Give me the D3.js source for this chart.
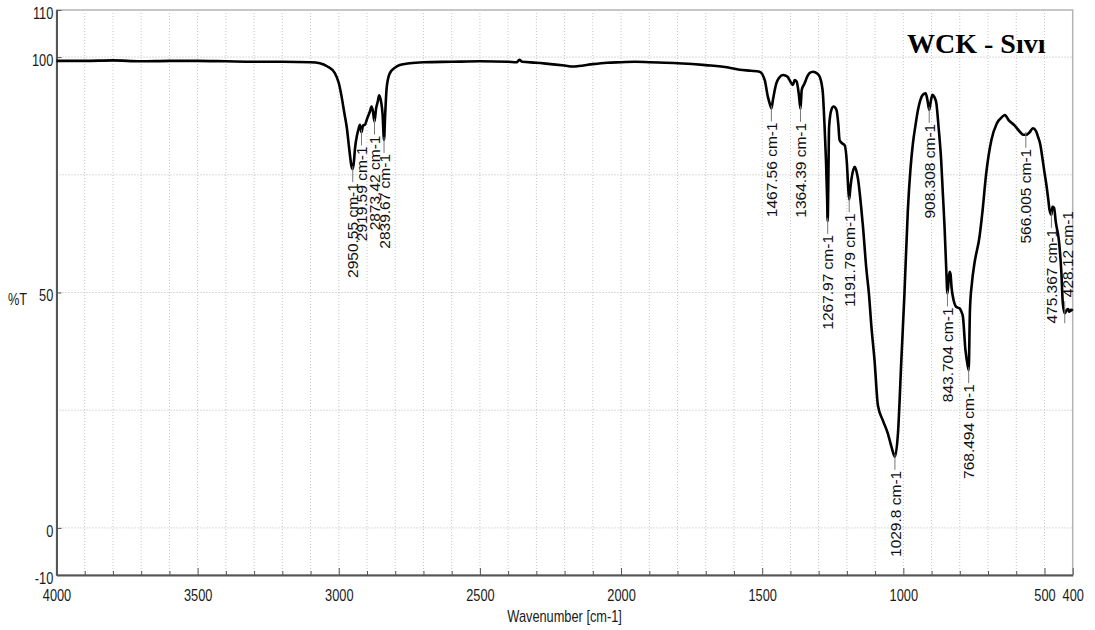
<!DOCTYPE html>
<html><head><meta charset="utf-8">
<script src="https://cdn.jsdelivr.net/npm/d3@7"></script>
<style>body{margin:0;background:#fff}svg{display:block}</style>
</head><body>
<svg id="c" width="1095" height="630"></svg>
<script>
// Spectrum trace (wavenumber in cm-1, %T)
const wavenumbers = [4000,3900,3800,3700,3600,3500,3400,3300,3200,3100,3067,3040,3014,3000,2990,2980,2972,2962,2955,2950.55,2946,2943,2935,2931,2925,2919.59,2914,2908,2898,2890,2884,2879,2873.42,2868,2862,2857,2850,2845,2839.67,2836,2831,2825,2819,2800,2784,2748,2700,2600,2500,2400,2370,2360,2350,2300,2250,2200,2170,2150,2100,2050,2000,1950,1900,1800,1700,1620,1580,1540,1509,1491,1480,1470,1467.56,1462,1450,1440,1426,1410,1403,1391,1385,1378,1370,1364.39,1360,1350,1340,1332,1320,1305,1296,1290,1285,1279,1274,1270,1267.97,1266,1263,1255,1247,1237,1230,1226,1215,1208,1200,1195,1191.79,1188,1184,1172,1165,1160,1150,1143,1131,1122,1113,1102,1090,1073,1055,1042,1029.8,1019,1007,996,984,975,966,957,948,940,931,921,915,908.308,903,897,890,883,875,866,860,854,848,843.704,839,836,833,829,822,812,800,795,789,780,772,768.494,764,757,748,730,720,707,688,669,650,640,627,606,588,575,566.005,553,541,530,523,515,506,500,494,486,482,475.367,472,466,460,449,440,435,428.12,421,416,413,405,400];
const transmittance = [99.2,99.2,99.3,99.1,99.2,99.2,99.1,99.0,99.0,98.9,98.7,98.0,96.6,94.5,91.6,88.0,85.2,80.0,76.8,76.2,78.0,80.3,83.5,84.5,85.6,84.0,85.5,85.6,87.2,88.4,89.5,88.5,86.3,89.0,90.5,91.9,90.5,88.0,82.4,87.3,93.0,95.5,96.6,97.8,98.3,98.7,98.9,99.0,99.1,99.0,98.9,99.4,99.0,98.8,98.5,98.2,98.0,98.1,98.5,98.8,98.9,99.0,98.9,98.7,98.3,97.8,97.3,97.1,96.9,95.1,91.6,89.5,89.1,90.9,94.4,95.6,96.2,95.8,95.1,94.1,95.1,94.8,92.0,89.0,93.0,94.4,95.9,96.6,96.9,96.5,95.8,94.5,92.3,85.2,78.0,70.0,65.2,72.0,85.2,88.8,89.5,88.8,85.5,82.4,81.6,81.3,77.5,72.0,69.8,72.0,74.0,76.7,75.5,73.9,68.5,64.0,55.0,49.8,42.7,35.6,26.0,22.9,20.1,17.2,15.1,20.1,35.7,49.8,67.5,76.0,81.7,85.5,88.8,90.8,92.0,92.3,91.0,88.8,90.5,92.0,91.5,90.2,85.0,78.1,71.0,64.0,55.0,49.8,53.0,54.4,54.0,51.0,48.4,46.9,46.6,46.0,44.9,37.8,34.5,33.5,46.3,52.0,56.2,61.9,67.0,75.0,82.4,85.9,87.3,87.7,86.6,85.5,84.2,83.5,83.5,84.0,84.9,84.3,83.1,81.5,78.0,75.5,73.2,69.5,67.5,66.5,68.2,68.0,65.0,61.1,54.1,47.7,45.6,46.3,46.5,45.9,46.3,46.1];

// Peak labels
const peakWavenumbers = [2950.55,2919.59,2873.42,2839.67,1467.56,1364.39,1267.97,1191.79,1029.8,908.308,843.704,768.494,566.005,475.367,428.12];
const peakValues = [76.2,84.0,86.3,82.4,89.1,89.0,65.2,69.8,15.1,88.8,49.8,33.5,83.5,66.5,45.6];
const peakTexts = ["2950.55 cm-1","2919.59 cm-1","2873.42 cm-1","2839.67 cm-1","1467.56 cm-1","1364.39 cm-1","1267.97 cm-1","1191.79 cm-1","1029.8 cm-1","908.308 cm-1","843.704 cm-1","768.494 cm-1","566.005 cm-1","475.367 cm-1","428.12 cm-1"];
const peakAbove = [false,false,false,false,false,false,false,false,false,false,false,false,false,false,true];

const xTicks = [4000,3500,3000,2500,2000,1500,1000,500,400];
const yTicks = [-10,0,50,100,110];
const yGrid = [0,25,50,75,100];
const title = "WCK - Sıvı";

const svg = d3.select("#c");
const x = d3.scaleLinear().domain([4000,400]).range([56.5,1072.7]);
const y = d3.scaleLinear().domain([-10,110]).range([575,10]);
const font = "'Liberation Sans', Arial, sans-serif";

// frame
svg.append("rect").attr("x",x(4000)).attr("y",y(110)).attr("width",x(400)-x(4000)).attr("height",y(-10)-y(110))
  .attr("fill","none").attr("stroke","#b4b4b4").attr("stroke-width",1.5);

// grid
const vGrid = d3.range(3900,400,-100);
svg.append("g").selectAll("line").data(vGrid).join("line")
  .attr("x1",d=>x(d)).attr("x2",d=>x(d)).attr("y1",y(110)).attr("y2",y(-10))
  .attr("stroke","#c4c4c4").attr("stroke-width",1).attr("stroke-dasharray","1,2");
svg.append("g").selectAll("line").data(yGrid).join("line")
  .attr("x1",x(4000)).attr("x2",x(400)).attr("y1",d=>y(d)).attr("y2",d=>y(d))
  .attr("stroke","#b8b8b8").attr("stroke-width",1).attr("stroke-dasharray","1,2");

// minor x ticks
const minor = d3.range(3900,400,-100).filter(v=>!xTicks.includes(v));
svg.append("g").attr("transform",`translate(0,${y(-10)})`)
  .call(d3.axisBottom(x).tickValues(minor).tickSizeInner(-4).tickSizeOuter(0).tickFormat(""))
  .call(g=>g.select(".domain").remove())
  .call(g=>g.selectAll("line").attr("stroke","#555"));

// x axis
const gx = svg.append("g").attr("transform",`translate(0,${y(-10)})`)
  .call(d3.axisBottom(x).tickValues(xTicks).tickSizeInner(-7).tickSizeOuter(0).tickPadding(15).tickFormat(d=>String(d)));
gx.select(".domain").attr("stroke","#555").attr("stroke-width",2);
gx.selectAll("line").attr("stroke","#555");
gx.selectAll("text").attr("font-family",font).attr("font-size",16).attr("fill","#1a1a1a").attr("transform","scale(0.8,1)");

// y axis
const gy = svg.append("g").attr("transform",`translate(${x(4000)},0)`)
  .call(d3.axisLeft(y).tickValues(yTicks).tickSizeInner(-5).tickSizeOuter(0).tickPadding(4).tickFormat(d=>String(d)));
gy.select(".domain").attr("stroke","#555").attr("stroke-width",2);
gy.selectAll("line").attr("stroke","#555");
gy.selectAll("text").attr("font-family",font).attr("font-size",16).attr("fill","#1a1a1a").attr("dy","0.52em").attr("transform","scale(0.8,1)");

// axis titles
svg.append("text").attr("transform",`translate(${(x(4000)+x(400))/2},622) scale(0.8,1)`)
  .attr("text-anchor","middle").attr("font-family",font).attr("font-size",16).attr("fill","#1a1a1a").text("Wavenumber [cm-1]");
svg.append("text").attr("transform",`translate(8,305) scale(0.8,1)`)
  .attr("font-family",font).attr("font-size",16).attr("fill","#1a1a1a").text("%T");

// spectrum
const pts = wavenumbers.map((w,i)=>[w,transmittance[i]]);
svg.append("path").datum(pts)
  .attr("d",d3.line().x(d=>x(d[0])).y(d=>y(d[1])).curve(d3.curveMonotoneX))
  .attr("fill","none").attr("stroke","#000").attr("stroke-width",2.6).attr("stroke-linejoin","round");

// peak labels
const lbl = svg.append("g");
peakWavenumbers.forEach((w,i)=>{
  const px = x(w), py = y(peakValues[i]);
  if(!peakAbove[i]){
    lbl.append("line").attr("x1",px).attr("x2",px).attr("y1",py-3).attr("y2",py+13)
      .attr("stroke","#777").attr("stroke-width",1);
    lbl.append("text").attr("transform",`translate(${px},${py+14}) rotate(-90)`)
      .attr("text-anchor","end").attr("dy","0.36em").attr("font-family",font).attr("font-size",15.5).attr("fill","#111")
      .text(peakTexts[i]);
  } else {
    lbl.append("line").attr("x1",px).attr("x2",px).attr("y1",py-12).attr("y2",py+10)
      .attr("stroke","#777").attr("stroke-width",1);
    lbl.append("text").attr("transform",`translate(${px+3},${py-16}) rotate(-90)`)
      .attr("text-anchor","start").attr("dy","0.36em").attr("font-family",font).attr("font-size",15.5).attr("fill","#111")
      .text(peakTexts[i]);
  }
});

// title
svg.append("text").attr("x",907).attr("y",53).attr("font-family","'Liberation Serif','Times New Roman',serif")
  .attr("font-weight","bold").attr("font-size",28).attr("fill","#000").text(title);
</script>
</body></html>
